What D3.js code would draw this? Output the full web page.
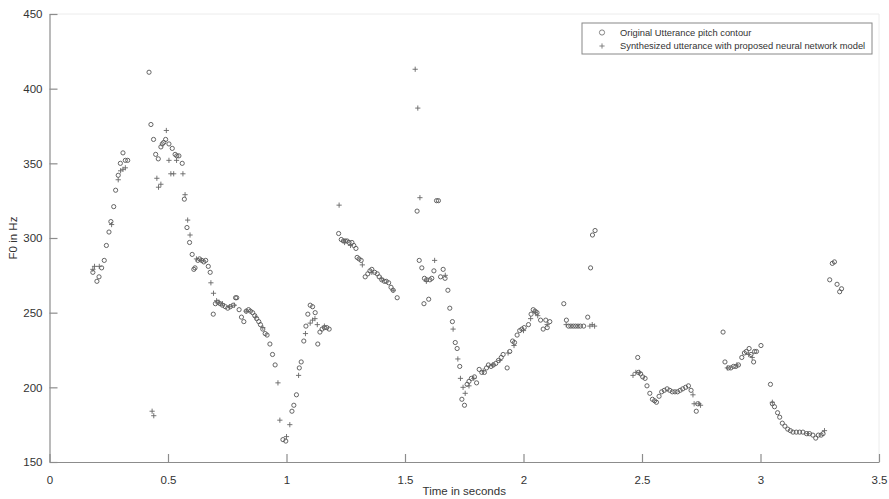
<!DOCTYPE html>
<html>
<head>
<meta charset="utf-8">
<script src="https://cdn.jsdelivr.net/npm/d3@7"></script>
<style>
  body { margin: 0; background: #fff; }
  text { font-family: "Liberation Sans", Arial, sans-serif; }
</style>
</head>
<body>
<div id="chart"></div>
<script>
// F0 contour: original vs synthesized utterance
const xTicks = [0, 0.5, 1, 1.5, 2, 2.5, 3, 3.5];
const yTicks = [150, 200, 250, 300, 350, 400, 450];
const seriesNames = ["Original Utterance pitch contour",
                     "Synthesized utterance with proposed neural network model"];

// [time (s), F0 (Hz)]
const originalPts = [
  [0.183,277],[0.2,271],[0.209,274],[0.22,280],[0.231,285],[0.24,295],[0.251,304],[0.259,311],[0.271,321],[0.279,332],
  [0.29,342],[0.299,350],[0.31,357],[0.32,352],[0.33,352],
  [0.42,411],[0.428,376],[0.439,366],[0.448,356],[0.459,353],[0.47,361],[0.476,363],[0.482,364],[0.49,366],[0.504,363],
  [0.518,360],[0.53,356],[0.537,355],[0.546,355],[0.56,350],[0.569,326],[0.58,307],[0.591,297],[0.602,289],[0.609,279],
  [0.614,280],[0.626,285],[0.633,286],[0.643,285],[0.651,284],[0.659,285],[0.67,281],[0.678,277],
  [0.691,249],[0.7,256],[0.71,257],[0.72,256],[0.73,255],[0.742,254],[0.752,253],[0.763,254],[0.775,255],[0.785,260],
  [0.79,260],[0.8,252],[0.81,247],[0.82,244],[0.83,251],[0.84,252],[0.848,251],[0.857,250],[0.866,248],[0.874,246],
  [0.883,244],[0.89,242],[0.9,239],[0.91,236],[0.918,235],[0.93,229],[0.941,222],[0.952,215],[0.985,165],[0.997,164],
  [1.023,184],[1.031,188],[1.042,195],[1.054,213],[1.062,217],[1.073,231],[1.082,241],[1.09,249],[1.1,255],[1.11,254],
  [1.121,250],[1.132,229],[1.141,237],[1.15,239],[1.16,240],[1.17,240],[1.18,239],
  [1.22,303],[1.231,299],[1.24,298],[1.248,298],[1.256,298],[1.264,297],[1.276,297],[1.284,295],[1.293,293],[1.298,287],
  [1.306,286],[1.315,285],[1.332,274],[1.343,276],[1.352,278],[1.36,279],[1.372,277],[1.383,276],[1.391,274],[1.402,272],
  [1.413,271],[1.421,271],[1.431,270],[1.441,267],[1.45,265],[1.467,260],
  [1.551,318],[1.56,285],[1.571,280],[1.58,256],[1.582,273],[1.591,272],[1.6,259],[1.605,272],[1.613,273],[1.622,278],
  [1.633,325],[1.641,325],[1.65,274],[1.661,279],[1.669,273],[1.681,265],[1.689,253],[1.7,244],[1.712,230],[1.72,226],
  [1.731,214],[1.74,192],[1.751,188],[1.762,202],[1.77,204],[1.78,206],[1.793,207],[1.802,203],[1.813,212],[1.824,210],
  [1.835,210],[1.844,213],[1.852,215],[1.863,214],[1.873,215],[1.883,216],[1.894,218],[1.906,220],[1.914,222],[1.931,213],
  [1.942,224],[1.954,231],[1.962,230],[1.973,235],[1.984,238],[1.993,239],[2.003,240],[2.021,242],[2.032,249],[2.041,252],
  [2.049,251],[2.057,250],[2.072,245],[2.083,239],[2.094,245],[2.1,240],[2.111,244],
  [2.17,256],[2.181,245],[2.19,241],[2.2,241],[2.21,241],[2.22,241],[2.23,241],[2.24,241],[2.254,241],[2.271,247],
  [2.283,280],[2.291,302],[2.302,305],
  [2.482,220],[2.485,210],[2.494,209],[2.503,207],[2.513,206],[2.521,201],[2.533,196],[2.544,192],[2.553,191],[2.561,190],
  [2.572,194],[2.583,197],[2.594,198],[2.606,199],[2.617,198],[2.628,197],[2.639,197],[2.65,197],[2.661,198],[2.672,199],
  [2.684,200],[2.696,201],[2.707,198],[2.729,184],[2.735,189],
  [2.842,237],[2.85,217],[2.865,213],[2.875,213],[2.886,214],[2.896,214],[2.907,215],[2.921,220],[2.932,223],[2.94,224],
  [2.952,226],[2.96,222],[2.971,217],[2.975,224],[2.983,224],[3.002,228],
  [3.042,202],[3.05,189],[3.059,187],[3.072,183],[3.081,180],[3.092,176],[3.103,174],[3.115,172],[3.126,171],[3.137,170],
  [3.151,170],[3.165,170],[3.179,170],[3.194,169],[3.207,169],[3.221,168],[3.233,166],[3.244,168],[3.256,168],[3.264,169],
  [3.292,272],[3.303,283],[3.312,284],[3.323,269],[3.334,264],[3.342,266]
];

const synthPts = [
  [0.183,279],[0.19,281],[0.21,281],[0.262,309],[0.29,339],[0.3,345],[0.31,346],[0.32,347],
  [0.433,184],[0.44,181],[0.453,340],[0.46,334],[0.47,336],[0.493,372],[0.504,352],[0.512,343],[0.524,343],[0.536,352],
  [0.563,343],[0.572,329],[0.583,312],[0.593,302],[0.62,286],[0.64,285],[0.681,270],[0.692,263],
  [0.705,258],[0.715,257],[0.73,256],[0.76,254],[0.78,255],[0.83,251],[0.87,247],[0.9,240],[0.964,203],[0.972,178],
  [1.0,167],[1.014,175],[1.051,208],[1.08,236],[1.1,243],[1.11,245],[1.12,246],[1.13,242],[1.16,241],
  [1.222,322],[1.245,297],[1.27,295],[1.32,282],[1.36,277],[1.4,273],[1.45,265],
  [1.543,413],[1.554,387],[1.563,327],[1.59,271],[1.625,285],[1.67,275],[1.703,239],[1.723,219],[1.734,206],[1.745,200],
  [1.754,196],[1.77,201],[1.79,206],[1.83,211],[1.87,215],[1.9,218],[1.935,223],[1.96,228],[2.0,238],[2.03,246],
  [2.05,250],[2.06,248],[2.1,242],
  [2.18,242],[2.28,241],[2.29,242],[2.3,241],
  [2.462,208],[2.474,210],[2.49,210],[2.715,195],[2.72,189],[2.74,189],[2.747,188],
  [2.86,213],[2.9,215],[2.95,222],[2.965,220],
  [3.05,190],[3.2,169],[3.27,171]
];

const W = 889, H = 499;
const margin = { top: 14, right: 10, bottom: 37, left: 49.5 };
const width = W - margin.left - margin.right,
      height = H - margin.top - margin.bottom;

const svg = d3.select("#chart").append("svg")
  .attr("width", W).attr("height", H);

const g = svg.append("g")
  .attr("transform", `translate(${margin.left},${margin.top})`);

const x = d3.scaleLinear().domain([0, 3.5]).range([0, width]);
const y = d3.scaleLinear().domain([150, 450]).range([height, 0]);

const axisColor = "#8c8c8c";

// faint top / right frame
g.append("path")
  .attr("d", `M0,0H${width}V${height}`)
  .attr("fill", "none")
  .attr("stroke", "#ececec");

// X axis (ticks pointing inward)
const xAxis = g.append("g")
  .attr("transform", `translate(0,${height})`)
  .call(d3.axisBottom(x).tickValues(xTicks).tickSizeInner(-8).tickSizeOuter(0)
    .tickPadding(14).tickFormat(d3.format("")));

// Y axis
const yAxis = g.append("g")
  .call(d3.axisLeft(y).tickValues(yTicks).tickSizeInner(-8).tickSizeOuter(0).tickPadding(7));

[xAxis, yAxis].forEach(a => {
  a.select(".domain").attr("stroke", axisColor).attr("stroke-width", 1.2);
  a.selectAll(".tick line").attr("stroke", axisColor).attr("stroke-width", 1.2);
  a.selectAll(".tick text").attr("fill", "#333").style("font-size", "11.5px");
});

// Axis labels
g.append("text")
  .attr("x", width / 2)
  .attr("y", height + 33)
  .attr("text-anchor", "middle")
  .attr("fill", "#333")
  .style("font-size", "11.5px")
  .text("Time in seconds");

g.append("text")
  .attr("transform", "rotate(-90)")
  .attr("x", -y(300))
  .attr("y", -33)
  .attr("text-anchor", "middle")
  .attr("fill", "#333")
  .style("font-size", "11.5px")
  .text("F0 in Hz");

// Original: open circles
g.append("g").selectAll("circle")
  .data(originalPts)
  .join("circle")
  .attr("cx", d => x(d[0]))
  .attr("cy", d => y(d[1]))
  .attr("r", 2.1)
  .attr("fill", "none")
  .attr("stroke", "#555")
  .attr("stroke-width", 0.9);

// Synthesized: plus signs
const plus = "M-2.6,0H2.6M0,-2.6V2.6";
g.append("g").selectAll("path")
  .data(synthPts)
  .join("path")
  .attr("transform", d => `translate(${x(d[0])},${y(d[1])})`)
  .attr("d", plus)
  .attr("stroke", "#666")
  .attr("stroke-width", 0.9);

// Legend
const lg = svg.append("g").attr("transform", "translate(582,23)");
lg.append("rect")
  .attr("width", 290).attr("height", 31)
  .attr("fill", "#fff")
  .attr("stroke", "#888")
  .attr("stroke-width", 1);

lg.append("circle")
  .attr("cx", 20).attr("cy", 9.5).attr("r", 2.6)
  .attr("fill", "none").attr("stroke", "#777").attr("stroke-width", 0.9);
lg.append("path")
  .attr("transform", "translate(20,23)")
  .attr("d", plus)
  .attr("stroke", "#777").attr("stroke-width", 0.9);

lg.selectAll("text.lbl")
  .data(seriesNames)
  .join("text")
  .attr("class", "lbl")
  .attr("x", 38)
  .attr("y", (d, i) => 12.5 + i * 13.5)
  .attr("fill", "#333")
  .style("font-size", "9.35px")
  .text(d => d);
</script>
</body>
</html>
